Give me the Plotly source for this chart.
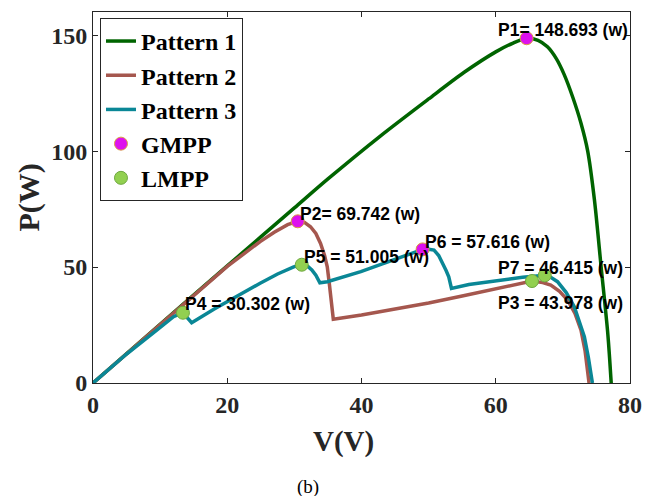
import plotly.graph_objects as go

# Pattern 1
v1 = [0, 10, 20, 25, 30, 35, 42.8, 50, 55.3, 60, 62.5, 64.6, 66.3, 67.7, 69, 70.2, 71.5, 72.7, 73.7, 74.7, 75.7, 76.7, 77.2]
p1 = [0, 25.3, 50.5, 63, 75.5, 88, 106.5, 122.5, 134, 142.8, 146.5, 148.693, 147.8, 145, 140, 133, 123, 112, 100, 79, 50, 21, 0]

# Pattern 2
v2 = [0, 10, 20, 24.9, 27, 29, 30.5, 31.5, 32.4, 33.2, 33.9, 34.5, 34.9, 35.2, 35.4, 35.6, 35.8,
      40, 45, 50, 55, 60, 63, 65.4, 67, 68.2, 69.5, 70.7, 71.8, 72.7, 73.3, 73.9]
p2 = [0, 25.3, 50.3, 61, 65, 68.3, 69.742, 69.3, 67.4, 64.5, 60.2, 55, 50.1, 43, 37.2, 32, 27.5,
      29.3, 31.8, 34.5, 37.5, 40.7, 42.8, 43.978, 43.3, 42.2, 39.5, 35.8, 30, 22.8, 14, 0]

# Pattern 3
v3 = [0, 5, 9.5, 12, 13.4, 14.0, 14.7, 18, 21, 24.9, 27.5, 29.9, 31.1, 32.0, 32.6, 33.2, 33.8,
      34.9, 39.9, 44.8, 47.5, 49.1, 50, 50.8, 51.5, 52, 52.6, 53.0, 53.4,
      56, 60, 64, 67.3, 68.2, 69.2, 70.5, 71.7, 72.5, 73.2, 73.8, 74.4]
p3 = [0, 12.5, 22.8, 28.6, 30.302, 28.3, 26, 31.8, 36.8, 43, 47, 50.1, 51.005, 50.3, 48.8, 46.5, 43.2,
      43.7, 48, 53, 56, 57.616, 57.7, 57.3, 55, 52.3, 48.5, 45.8, 40.8,
      42.5, 44.2, 45.6, 46.415, 45.6, 43.7, 39, 32.9, 26, 20, 11, 0]

# Maximum power points
gmpp_v = [64.6, 30.5, 49.1]
gmpp_p = [148.693, 69.742, 57.616]
lmpp_v = [65.4, 13.4, 31.1, 67.3]
lmpp_p = [43.978, 30.302, 51.005, 46.415]

# Labels
label_text = ["P1= 148.693 (w)", "P2= 69.742 (w)", "P5 = 51.005 (w)", "P6 = 57.616 (w)",
              "P7 = 46.415 (w)", "P3 = 43.978 (w)", "P4 = 30.302 (w)"]
label_x = [60.0, 30.6, 31.2, 49.2, 60.1, 60.1, 13.45]
label_y = [152.2, 73.1, 54.4, 60.9, 49.4, 34.4, 34.1]

x_ticks = [0, 20, 40, 60, 80]
y_ticks = [0, 50, 100, 150]

serif = "Liberation Serif, Times New Roman, serif"
sans = "Liberation Sans, Arial, sans-serif"
axcol = "#262626"

fig = go.Figure()
fig.add_trace(go.Scatter(x=v1, y=p1, mode="lines", name="Pattern 1",
                         line=dict(color="#006400", width=3.5, shape="spline", smoothing=0.8)))
fig.add_trace(go.Scatter(x=v2, y=p2, mode="lines", name="Pattern 2",
                         line=dict(color="#A5574E", width=3.5)))
fig.add_trace(go.Scatter(x=v3, y=p3, mode="lines", name="Pattern 3",
                         line=dict(color="#0A8796", width=3.5)))
fig.add_trace(go.Scatter(x=gmpp_v, y=gmpp_p, mode="markers", name="GMPP",
                         marker=dict(color="#DD11EE", size=13,
                                     line=dict(color="#D9A040", width=1))))
fig.add_trace(go.Scatter(x=lmpp_v, y=lmpp_p, mode="markers", name="LMPP",
                         marker=dict(color="#92D050", size=13,
                                     line=dict(color="#6FA840", width=1))))

annotations = []
for t, x, y in zip(label_text, label_x, label_y):
    annotations.append(dict(x=x, y=y, xref="x", yref="y", text=t, showarrow=False,
                            xanchor="left", yanchor="middle",
                            font=dict(family=sans, size=17.5, color="black", weight="bold")))
annotations.append(dict(x=(343 - 93) / 537, y=(383 - 441.7) / 371, xref="paper", yref="paper",
                        text="V(V)", showarrow=False, xanchor="center", yanchor="middle",
                        font=dict(family=serif, size=29, color=axcol, weight="bold")))
annotations.append(dict(x=(28 - 93) / 537, y=0.5, xref="paper", yref="paper",
                        text="P(W)", showarrow=False, xanchor="center", yanchor="middle",
                        textangle=-90,
                        font=dict(family=serif, size=30, color=axcol, weight="bold")))
annotations.append(dict(x=(308 - 93) / 537, y=(383 - 487) / 371, xref="paper", yref="paper",
                        text="(b)", showarrow=False, xanchor="center", yanchor="middle",
                        font=dict(family=serif, size=19, color="black")))

# page has an 8px body margin; size the figure to fit inside the viewport
fig.update_layout(
    width=646, height=488,
    margin=dict(l=85, r=24, t=4, b=113),
    paper_bgcolor="white", plot_bgcolor="white",
    showlegend=True,
    legend=dict(x=0.013, y=0.984, xanchor="left", yanchor="top",
                bgcolor="white", bordercolor=axcol, borderwidth=1,
                font=dict(family=serif, size=24, color="black", weight="bold"),
                tracegroupgap=0, itemwidth=30),
    annotations=annotations,
)
fig.update_xaxes(range=[0, 80], tickvals=x_ticks, ticks="inside", ticklen=5,
                 tickcolor=axcol, showline=True, linecolor=axcol, linewidth=1,
                 mirror="ticks", showgrid=False, zeroline=False,
                 tickfont=dict(family=serif, size=24, color=axcol, weight="bold"))
fig.update_yaxes(range=[0, 160], tickvals=y_ticks, ticks="inside", ticklen=5,
                 tickcolor=axcol, showline=True, linecolor=axcol, linewidth=1,
                 mirror="ticks", showgrid=False, zeroline=False,
                 tickfont=dict(family=serif, size=24, color=axcol, weight="bold"))

fig.write_html("out.html")
